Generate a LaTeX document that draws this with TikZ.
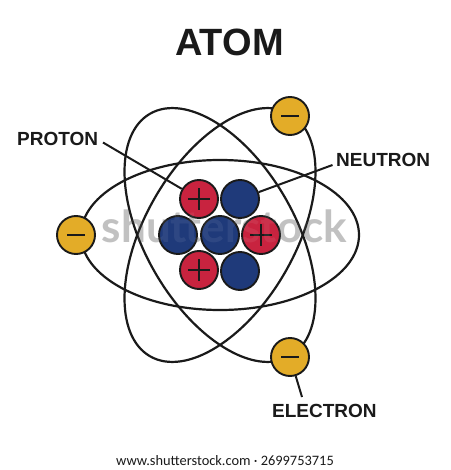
\documentclass[tikz,border=0pt]{standalone}
\usepackage{fontspec}
\setmainfont{Liberation Sans}
\newfontfamily\footfont{Carlito}
\newfontfamily\stockfont{Lato}
\definecolor{protonred}{HTML}{C8233F}
\definecolor{neutronblue}{HTML}{1F3A7A}
\definecolor{electrongold}{HTML}{E3AC28}
\definecolor{inkline}{HTML}{1A1A1A}
\tikzset{
  orbit/.style={draw=inkline,line width=2.2pt},
  particle/.style={circle,draw=inkline,line width=1.9pt,minimum size=38pt,inner sep=0pt},
  proton/.style={particle,fill=protonred},
  neutron/.style={particle,fill=neutronblue},
  electron/.style={particle,fill=electrongold},
  leader/.style={draw=inkline,line width=2pt},
  label/.style={font=\bfseries\fontsize{19}{22}\selectfont,text=inkline,inner sep=0pt},
  sign/.style={draw=inkline,line width=1.6pt},
  stockmark/.style={font=\stockfont\bfseries\fontsize{44}{48}\selectfont,inner sep=0pt}
}
\newcommand{\plusmark}[1]{\draw[sign] ($(#1)+(-11,0)$) -- ($(#1)+(11,0)$) ($(#1)+(0,-11)$) -- ($(#1)+(0,11)$);}
\newcommand{\minusmark}[1]{\draw[sign,line width=2.1pt] ($(#1)+(-9,0)$) -- ($(#1)+(9,0)$);}
\usetikzlibrary{calc}
\begin{document}
\begin{tikzpicture}[x=1pt,y=-1pt]
\useasboundingbox (0,0) rectangle (450,470);
\fill[white] (0,0) rectangle (450,470);

\node[font=\bfseries\fontsize{38}{42}\selectfont,text=inkline,inner sep=0pt] (title) at (229.5,42.5) {ATOM};

% grey overlay word sits under the line work
\node[stockmark,text=black!26] (mark) at (224.5,226) {shutterstock};

% orbits
\draw[orbit] (220,235) ellipse [x radius=139,y radius=75];
\draw[orbit] (220,235) ellipse [x radius=140,y radius=75,rotate=60];
\draw[orbit] (220,235) ellipse [x radius=140,y radius=75,rotate=-60];

% electrons
\node[electron] (e1) at (290,116) {};
\node[electron] (e2) at (76,235) {};
\node[electron] (e3) at (290,357) {};
\minusmark{e1} \minusmark{e2} \minusmark{e3}

% nucleus
\node[proton]  (p1) at (199,199) {};
\node[neutron] (n1) at (240,199) {};
\node[neutron] (n2) at (178,235) {};
\node[neutron] (n3) at (220,235) {};
\node[proton]  (p2) at (261,235) {};
\node[proton]  (p3) at (199,270) {};
\node[neutron] (n4) at (240,271) {};
\plusmark{p1} \plusmark{p2} \plusmark{p3}

% faint trace of the overlay word across the nucleus
\node[stockmark,text=white,opacity=.07] (markover) at (224.5,226) {shutterstock};

% labels and leaders
\node[label,anchor=west] (lp) at (17,139) {PROTON};
\node[label,anchor=west] (ln) at (336,160) {NEUTRON};
\node[label,anchor=west] (le) at (272,411) {ELECTRON};
\coordinate (lpend) at (103,142.5);
\coordinate (lnend) at (332.5,165);
\coordinate (leend) at (302,397);
\draw[leader] (lpend) -- (p1);
\draw[leader] (lnend) -- (n1);
\draw[leader] (leend) -- (e3);

% credit line
\node[font=\footfont\fontsize{14.4}{16}\selectfont,text=inkline,inner sep=0pt] (credit) at (225,460.5) {www.shutterstock.com · 2699753715};
\end{tikzpicture}
\end{document}
